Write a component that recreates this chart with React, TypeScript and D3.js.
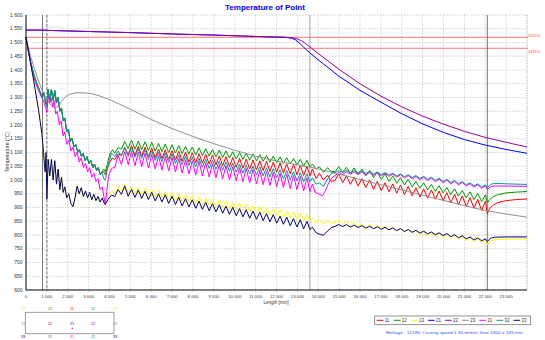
import React from 'react';
import * as d3 from 'd3';

// ---------- data ----------
const seriesNames = ['11', '12', '13', '21', '22', '23', '31', '32', '33'];
const seriesColors = ['#ff0000', '#009900', '#ffff00', '#0000ff', '#990099', '#909090', '#ff00ff', '#009999', '#000080'];

const xTickValues = [0, 1000, 2000, 3000, 4000, 5000, 6000, 7000, 8000, 9000, 10000, 11000, 12000, 13000, 14000, 15000, 16000, 17000, 18000, 19000, 20000, 21000, 22000, 23000];
const yTickValues = [600, 650, 700, 750, 800, 850, 900, 950, 1000, 1050, 1100, 1150, 1200, 1250, 1300, 1350, 1400, 1450, 1500, 1550, 1600];

const refLines = [1519, 1479];
const refLabels = ['1519.0', '1479.0'];
const markerPositions = [790, 1000, 13600, 22100];
const markerStyles = ['solid', 'dashed', 'light', 'solid'];

// roll positions (mm) in secondary cooling zones
const rollsZ2 = [4250, 4570, 4895, 5220, 5540, 5865, 6190, 6510, 6835, 7160, 7480, 7805, 8130, 8450, 8775, 9100, 9420, 9745, 10070, 10390, 10715, 11040, 11360, 11685, 12010, 12330, 12655, 12980, 13300];
const rollsZ3 = [14800, 15170, 15540, 15910, 16280, 16650, 17020, 17390, 17760, 18130, 18500, 18870, 19240, 19610, 19980, 20350, 20720, 21090, 21460, 21830];

// 21 / 22 (smooth)
const s21 = [[0, 1545], [900, 1545], [1000, 1544], [3000, 1540], [5000, 1536], [7000, 1531], [9000, 1527], [11000, 1522], [12400, 1519], [12700, 1516], [12900, 1510], [13100, 1498], [13300, 1483], [13600, 1462], [14000, 1437], [15000, 1377], [16000, 1326], [17000, 1283], [18000, 1241], [19000, 1204], [20000, 1173], [21000, 1147], [22000, 1127], [23000, 1111], [24000, 1097]];
const s22 = [[0, 1545], [900, 1545], [1000, 1544], [3000, 1540], [5000, 1536], [7000, 1531], [9000, 1527], [11000, 1522], [12400, 1519], [12800, 1517], [13000, 1513], [13200, 1506], [13400, 1496], [13600, 1484], [14000, 1460], [15000, 1402], [16000, 1350], [17000, 1305], [18000, 1266], [19000, 1232], [20000, 1203], [21000, 1177], [22000, 1155], [23000, 1137], [24000, 1120]];
// 23 (smooth)
const s23 = [[0, 1518], [200, 1455], [400, 1405], [600, 1360], [800, 1320], [1000, 1290], [1200, 1272], [1400, 1262], [1550, 1268], [1700, 1285], [1900, 1303], [2100, 1312], [2400, 1317], [2800, 1317], [3200, 1313], [3600, 1304], [4000, 1292], [4500, 1275], [5000, 1257], [6000, 1220], [7000, 1187], [8000, 1158], [9000, 1132], [10000, 1108], [11000, 1087], [12000, 1069], [13000, 1055], [13600, 1047], [14000, 1040], [15000, 1021], [16000, 1002], [17000, 983], [18000, 964], [19000, 945], [20000, 926], [21000, 907], [22000, 889], [23000, 876], [24000, 865]];

// 32 early
const early32 = [[0, 1518], [100, 1475], [200, 1435], [350, 1390], [500, 1355], [650, 1325], [780, 1300], [850, 1318], [920, 1285], [1000, 1268], [1060, 1330], [1140, 1285], [1220, 1330], [1300, 1290], [1380, 1325], [1460, 1280], [1540, 1300], [1620, 1250], [1700, 1262], [1780, 1215], [1860, 1225], [1950, 1175], [2030, 1185], [2120, 1140], [2200, 1152], [2300, 1120], [2380, 1130], [2480, 1100], [2560, 1110], [2660, 1085], [2740, 1097], [2840, 1070], [2920, 1085], [3020, 1060], [3100, 1072], [3200, 1045], [3280, 1058], [3380, 1035], [3460, 1045], [3560, 1020], [3640, 1030]];
const end32 = [[3720, 1005], [3800, 1000], [3950, 1061], [4100, 1098]];
const end12 = [[3720, 1040], [3800, 1030], [3900, 1060], [4030, 1098], [4150, 1110]];
const end11 = [[3720, 1030], [3800, 1020], [3875, 1037], [4000, 1061], [4120, 1080]];
// 31 early
const early31 = [[0, 1518], [150, 1450], [300, 1395], [450, 1355], [600, 1325], [750, 1300], [850, 1285], [950, 1262], [1000, 1245], [1060, 1310], [1130, 1280], [1200, 1300], [1280, 1265], [1350, 1290], [1420, 1240], [1500, 1250], [1600, 1200], [1680, 1215], [1780, 1160], [1860, 1175], [1950, 1130], [2050, 1145], [2150, 1105], [2250, 1120], [2350, 1085], [2450, 1100], [2550, 1065], [2650, 1080], [2750, 1045], [2850, 1060], [2950, 1030], [3050, 1045], [3150, 1010], [3250, 1025], [3350, 995], [3450, 1005], [3550, 965], [3650, 975], [3800, 910], [3950, 1013], [4100, 1043]];
// 33 early
const early33 = [[0, 1518], [120, 1470], [280, 1400], [440, 1330], [600, 1255], [760, 1170], [840, 1100], [880, 1060], [920, 1030], [960, 1100], [1000, 930], [1060, 1075], [1140, 1015], [1220, 1075], [1300, 1000], [1380, 1070], [1460, 985], [1540, 1040], [1620, 965], [1700, 1010], [1780, 955], [1860, 975], [1950, 935], [2050, 950], [2150, 915], [2250, 903], [2350, 935], [2450, 978], [2550, 950], [2650, 972], [2750, 940], [2850, 960], [2950, 935], [3050, 955], [3150, 928], [3250, 948], [3350, 925], [3450, 940], [3550, 920], [3650, 935]];
const end33 = [[3750, 915], [3800, 912], [3950, 932], [4100, 945]];
const end13 = [[3750, 930], [3850, 938], [4000, 950], [4120, 960]];

// zone 2 troughs / peaks
const z2lo11 = [1075, 1090, 1092, 1090, 1087, 1084, 1081, 1078, 1075, 1072, 1069, 1066, 1063, 1061, 1058, 1055, 1052, 1049, 1046, 1043, 1040, 1037, 1034, 1031, 1028, 1025, 1022, 1019, 1016];
const z2hi11 = [1095, 1118, 1125, 1122, 1119, 1116, 1113, 1110, 1107, 1105, 1102, 1099, 1096, 1093, 1091, 1088, 1085, 1082, 1079, 1076, 1073, 1070, 1068, 1065, 1062, 1059, 1057, 1054, 1050];
const z2lo12 = [1098, 1112, 1114, 1112, 1110, 1107, 1105, 1103, 1100, 1098, 1096, 1094, 1091, 1089, 1087, 1084, 1082, 1080, 1077, 1075, 1072, 1070, 1068, 1065, 1063, 1060, 1058, 1055, 1050];
const z2hi12 = [1118, 1140, 1145, 1142, 1139, 1137, 1133, 1131, 1128, 1125, 1122, 1120, 1117, 1114, 1111, 1109, 1106, 1103, 1100, 1097, 1095, 1092, 1089, 1086, 1084, 1081, 1078, 1075, 1072];
const z2lo13 = [950, 958, 952, 949, 946, 942, 938, 934, 930, 926, 922, 918, 914, 910, 907, 903, 899, 895, 891, 888, 884, 880, 876, 872, 868, 864, 861, 857, 852];
const z2hi13 = [975, 985, 975, 973, 970, 966, 962, 958, 954, 950, 946, 942, 938, 934, 931, 927, 923, 919, 915, 911, 907, 904, 900, 896, 892, 888, 884, 880, 876];
const z2lo31 = [1045, 1056, 1056, 1052, 1048, 1044, 1040, 1036, 1033, 1029, 1025, 1022, 1018, 1015, 1011, 1008, 1004, 1001, 997, 994, 990, 987, 983, 980, 976, 973, 969, 965, 960];
const z2hi31 = [1090, 1103, 1104, 1101, 1097, 1093, 1089, 1085, 1082, 1078, 1074, 1070, 1067, 1063, 1060, 1056, 1052, 1049, 1045, 1042, 1038, 1035, 1031, 1028, 1024, 1021, 1017, 1013, 1008];
const z2lo32 = [1085, 1088, 1086, 1083, 1079, 1075, 1071, 1067, 1064, 1060, 1056, 1053, 1049, 1046, 1042, 1039, 1036, 1032, 1029, 1025, 1022, 1018, 1015, 1011, 1008, 1004, 1001, 997, 993];
const z2hi32 = [1105, 1118, 1117, 1114, 1110, 1106, 1102, 1098, 1095, 1091, 1087, 1083, 1079, 1076, 1072, 1069, 1066, 1062, 1058, 1055, 1051, 1048, 1044, 1041, 1037, 1034, 1030, 1027, 1023];
const z2lo33 = [940, 948, 941, 937, 933, 929, 924, 920, 915, 911, 906, 902, 897, 893, 888, 884, 879, 875, 870, 866, 861, 857, 852, 848, 843, 839, 834, 829, 822];
const z2hi33 = [965, 978, 966, 963, 959, 955, 950, 946, 941, 937, 932, 928, 923, 919, 914, 910, 905, 901, 896, 892, 887, 883, 878, 874, 869, 865, 860, 856, 850];

// transition after 13 600 mm
const tr11 = [[13600, 1015], [13720, 1040], [13900, 1005], [14050, 1025], [14250, 1000], [14450, 1018], [14600, 995]];
const tr12 = [[13600, 1048], [13720, 1058], [13900, 1040], [14050, 1048], [14250, 1028], [14450, 1045], [14600, 1032]];
const tr13 = [[13600, 850], [13720, 862], [13900, 842], [14050, 856], [14250, 840], [14450, 854], [14650, 842]];
const tr31 = [[13600, 958], [13720, 985], [13850, 955], [14000, 950], [14200, 943], [14350, 962], [14500, 990], [14700, 1012]];
const tr32 = [[13600, 993], [13720, 1008], [13900, 985], [14050, 990], [14250, 977], [14450, 1005], [14650, 1026]];
const tr33 = [[13600, 820], [13720, 828], [13900, 808], [14100, 802], [14250, 799], [14450, 815], [14650, 828]];

// zone 3 troughs / peaks
const z3lo11 = [998, 990, 984, 978, 972, 966, 961, 957, 952, 947, 943, 938, 934, 930, 924, 917, 911, 904, 897, 889];
const z3hi11 = [1022, 1015, 1010, 1005, 1000, 995, 990, 986, 982, 977, 972, 968, 964, 960, 954, 948, 942, 936, 930, 924];
const z3lo12 = [1030, 1027, 1024, 1020, 1015, 1009, 1002, 995, 988, 982, 975, 970, 964, 959, 953, 947, 941, 935, 929, 922];
const z3hi12 = [1048, 1046, 1044, 1040, 1035, 1029, 1022, 1015, 1008, 1002, 995, 990, 984, 979, 973, 968, 962, 957, 951, 946];
const z3lo13 = [844, 839, 835, 831, 827, 824, 821, 818, 814, 810, 806, 802, 798, 795, 792, 788, 784, 780, 776, 772];
const z3hi13 = [855, 850, 846, 842, 838, 835, 832, 829, 825, 821, 817, 813, 809, 806, 803, 799, 795, 791, 787, 783];
const z3lo31 = [1015, 1020, 1021, 1020, 1019, 1017, 1015, 1013, 1010, 1007, 1004, 1001, 998, 994, 990, 986, 982, 978, 974, 970];
const z3hi31 = [1028, 1030, 1030, 1029, 1028, 1026, 1024, 1022, 1019, 1016, 1013, 1010, 1007, 1003, 999, 995, 991, 987, 983, 979];
const z3lo32 = [1027, 1028, 1027, 1026, 1024, 1022, 1020, 1018, 1015, 1012, 1009, 1006, 1003, 999, 995, 991, 987, 983, 979, 975];
const z3hi32 = [1034, 1035, 1034, 1033, 1031, 1029, 1027, 1025, 1022, 1019, 1016, 1013, 1010, 1006, 1002, 998, 994, 990, 986, 982];
const z3lo33 = [831, 831, 829, 827, 825, 823, 821, 819, 816, 813, 810, 807, 804, 801, 798, 794, 790, 786, 782, 779];
const z3hi33 = [838, 838, 836, 834, 832, 830, 828, 826, 823, 820, 817, 814, 811, 808, 805, 801, 797, 793, 789, 786];

// after 22 100 mm
const tail11 = [[22100, 878], [22200, 895], [22350, 907], [22600, 918], [23000, 925], [23500, 929], [24000, 931]];
const tail12 = [[22100, 916], [22200, 928], [22350, 938], [22600, 947], [23000, 953], [23500, 956], [24000, 958]];
const tail13 = [[22100, 765], [22250, 778], [22450, 783], [23000, 785], [24000, 786]];
const tail31 = [[22100, 966], [22250, 975], [22450, 978], [23000, 978], [24000, 977]];
const tail32 = [[22100, 972], [22250, 984], [22450, 988], [23000, 986], [24000, 984]];
const tail33 = [[22100, 776], [22250, 788], [22450, 792], [23000, 793], [24000, 793]];

// strand cross-section point labels
const sectionRows = [['13', '12', '11', '12', '13'], ['23', '22', '21', '22', '23'], ['33', '32', '31', '32', '33']];

const infoText = 'Meltage : 12196; Casting speed 1.30 m/min; Size 1300 x 145 mm.';

// ---------- helpers ----------
type P = [number, number];
function teeth(rolls: number[], lo: number[], hi: number[], off: number): P[] {
  const out: P[] = [];
  rolls.forEach((r, i) => {
    out.push([r, lo[i]]);
    out.push([r + off, hi[i]]);
  });
  return out;
}
function assemble(early: number[][], z2lo: number[], z2hi: number[], tr: number[][], z3lo: number[], z3hi: number[], tail: number[][]): P[] {
  return [
    ...(early as P[]),
    ...teeth(rollsZ2, z2lo, z2hi, 160),
    ...(tr as P[]),
    ...teeth(rollsZ3, z3lo, z3hi, 180),
    ...(tail as P[]),
  ];
}

const seriesData: P[][] = [
  assemble([...early32, ...end11], z2lo11, z2hi11, tr11, z3lo11, z3hi11, tail11),
  assemble([...early32, ...end12], z2lo12, z2hi12, tr12, z3lo12, z3hi12, tail12),
  assemble([...early33, ...end13], z2lo13, z2hi13, tr13, z3lo13, z3hi13, tail13),
  s21 as P[],
  s22 as P[],
  s23 as P[],
  assemble(early31, z2lo31, z2hi31, tr31, z3lo31, z3hi31, tail31),
  assemble([...early32, ...end32], z2lo32, z2hi32, tr32, z3lo32, z3hi32, tail32),
  assemble([...early33, ...end33], z2lo33, z2hi33, tr33, z3lo33, z3hi33, tail33),
];

const FONT = 'Liberation Sans, Arial, Helvetica, sans-serif';

export default function App() {
  const W = 545, H = 340;
  const left = 26, right = 527, top = 15, bottom = 290;
  const x = d3.scaleLinear().domain([0, 24000]).range([left, right]);
  const y = d3.scaleLinear().domain([600, 1600]).range([bottom, top]);
  const line = d3.line<P>().x(d => x(d[0])).y(d => y(d[1]));
  const fmt = (v: number) => d3.format(',')(v).replace(/,/g, ' ');

  const legendX0 = 376.7, legendStep = 17.1, legendY = 320.3;

  return (
    <svg width={W} height={H} style={{ position: 'absolute', left: 0, top: 0, background: '#fff' }} fontFamily={FONT}>
      <rect x={0} y={0} width={W} height={H} fill="#fff" />
      {/* title */}
      <text x={265} y={9.5} textAnchor="middle" fontSize={8} fontWeight="bold" fill="#0000ff">Temperature of Point</text>

      {/* grid */}
      {xTickValues.filter(v => v > 0).map(v => (
        <line key={'gx' + v} x1={x(v)} x2={x(v)} y1={top} y2={bottom} stroke="#b4b4b4" strokeWidth={0.6} strokeDasharray="1.5,1.5" />
      ))}
      {yTickValues.filter(v => v > 600).map(v => (
        <line key={'gy' + v} x1={left} x2={right} y1={y(v)} y2={y(v)} stroke="#b4b4b4" strokeWidth={0.6} strokeDasharray="1.5,1.5" />
      ))}
      <line x1={right} x2={right} y1={top} y2={bottom} stroke="#a0a0c0" strokeWidth={0.8} strokeDasharray="1.5,1" />

      {/* reference temperatures */}
      {refLines.map((v, i) => (
        <g key={'ref' + v}>
          <line x1={left} x2={right + 1} y1={y(v)} y2={y(v)} stroke="#ff5050" strokeWidth={0.8} />
          <text x={528} y={i === 0 ? 36.5 : 53} fontSize={3.8} fill="#ff3030" textLength={12} lengthAdjust="spacingAndGlyphs">{refLabels[i]}</text>
        </g>
      ))}

      {/* vertical markers */}
      {markerPositions.map((v, i) => (
        <line key={'m' + v} x1={x(v)} x2={x(v)} y1={top} y2={bottom}
          stroke={markerStyles[i] === 'light' ? '#8a8a8a' : '#555'}
          strokeWidth={0.8}
          strokeDasharray={markerStyles[i] === 'dashed' ? '3,1.5' : undefined} />
      ))}

      {/* series */}
      {seriesData.map((d, i) => (
        <path key={'s' + i} d={line(d) || ''} fill="none" stroke={seriesColors[i]} strokeWidth={1} strokeLinejoin="round" />
      ))}

      {/* axes */}
      <line x1={left} x2={left} y1={top} y2={bottom} stroke="#000" strokeWidth={1} />
      <line x1={left} x2={right} y1={bottom} y2={bottom} stroke="#000" strokeWidth={1} />
      {yTickValues.map(v => (
        <text key={'yl' + v} x={22.5} y={y(v) + 1.6} textAnchor="end" fontSize={5} fill="#333">{fmt(v)}</text>
      ))}
      {xTickValues.map(v => (
        <g key={'xl' + v}>
          <line x1={x(v)} x2={x(v)} y1={bottom} y2={bottom + 2} stroke="#888" strokeWidth={0.5} />
          <text x={x(v)} y={bottom + 7.5} textAnchor="middle" fontSize={4.3} fill="#333">{fmt(v)}</text>
        </g>
      ))}
      <text x={276} y={303.5} textAnchor="middle" fontSize={4.5} fill="#333">Length [mm]</text>
      <text transform="translate(8.5,152) rotate(-90)" textAnchor="middle" fontSize={5.3} fill="#333">Temperature [°C]</text>

      {/* strand section */}
      <rect x={25.3} y={312.3} width={88.7} height={21.4} fill="none" stroke="#888" strokeWidth={0.8} />
      {sectionRows.map((row, r) => row.map((lab, c) => {
        const idx = seriesNames.indexOf(lab);
        const cx = [23, 50, 72, 93, 115][c];
        const cy = [309.5, 324.5, 337.5][r];
        return <text key={'sec' + r + c} x={cx} y={cy} textAnchor="middle" fontSize={3.8} fill={seriesColors[idx] === '#ffff00' ? '#e8e800' : seriesColors[idx]}>{lab}</text>;
      }))}
      <circle cx={72.3} cy={328.3} r={0.7} fill="#cc0066" />

      {/* legend */}
      <rect x={374.7} y={316} width={156} height={8.7} fill="#fff" stroke="#777" strokeWidth={0.8} />
      {seriesNames.map((n, i) => (
        <g key={'lg' + n}>
          <line x1={legendX0 + i * legendStep} x2={legendX0 + i * legendStep + 6.7} y1={legendY} y2={legendY} stroke={seriesColors[i]} strokeWidth={1} />
          <text x={legendX0 + i * legendStep + 8} y={legendY + 1.6} fontSize={4.5} fill="#333">{n}</text>
        </g>
      ))}
      <text x={386} y={334} fontSize={4.2} fill="#3050ff" textLength={138} lengthAdjust="spacingAndGlyphs">{infoText}</text>
    </svg>
  );
}
